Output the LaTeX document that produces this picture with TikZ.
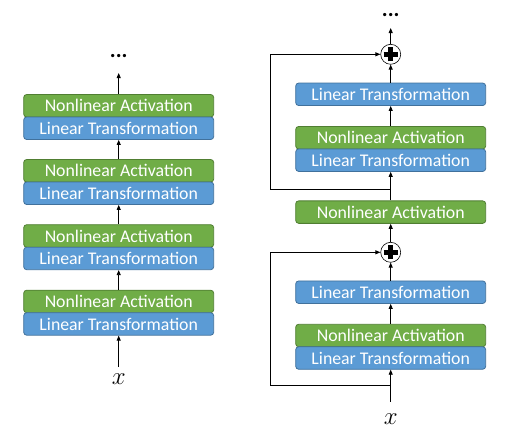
\documentclass[tikz,border=0pt]{standalone}
\usepackage{fontspec}
\setmainfont{Carlito}
\usetikzlibrary{arrows.meta}
\definecolor{nagreen}{HTML}{70AD47}
\definecolor{nagreenb}{HTML}{507E32}
\definecolor{ltblue}{HTML}{5B9BD5}
\definecolor{ltblueb}{HTML}{41719C}
\begin{document}
\begin{tikzpicture}[x=1pt,y=-1pt,
  blk/.style={rounded corners=3pt, minimum width=190pt, minimum height=22.5pt, inner sep=0pt,
    text=white, font=\fontsize{17.8}{20}\selectfont, line width=0.8pt},
  nabox/.style={blk, fill=nagreen, draw=nagreenb},
  ltbox/.style={blk, fill=ltblue, draw=ltblueb},
  arr/.style={-{Triangle[length=5pt,width=4pt]}, line width=0.8pt},
  plusnode/.style={circle, draw=black, fill=white, minimum size=20pt, inner sep=0pt, line width=0.6pt},
  dotsl/.style={font=\fontsize{22}{24}\selectfont\bfseries, inner sep=0pt, anchor=base},
  xl/.style={font=\fontsize{26}{28}\selectfont, inner sep=0pt}]
\useasboundingbox (0,0) rectangle (506,437);
% ---------- left column ----------
\foreach \i/\t in {1/94.5,2/159.5,3/224.7,4/290.2}{
  \node[nabox] (na\i) at (118.7,\t+11.25) {Nonlinear Activation};
  \node[ltbox] (lt\i) at (118.7,\t+33.75) {Linear Transformation};
}
\node[dotsl] (ldots) at (118.7,57.5) {...};
\coordinate (ltop) at (118.7,73);
\node[xl] (lx) at (118.7,379) {$x$};
\coordinate (lin) at (118.7,367);
\draw[arr] (lin) -- (lt4.south);
\draw[arr] (na4.north) -- (lt3.south);
\draw[arr] (na3.north) -- (lt2.south);
\draw[arr] (na2.north) -- (lt1.south);
\draw[arr] (na1.north) -- (ltop);
% ---------- right column ----------
\node[ltbox] (rlt3) at (390.7,94.3) {Linear Transformation};
\node[nabox] (rna2) at (390.7,137.7) {Nonlinear Activation};
\node[ltbox] (rlt4) at (390.7,160.2) {Linear Transformation};
\node[nabox] (rmid) at (390.7,212.1) {Nonlinear Activation};
\node[ltbox] (rlt1) at (390.7,292.2) {Linear Transformation};
\node[nabox] (rna1) at (390.7,335.5) {Nonlinear Activation};
\node[ltbox] (rlt2) at (390.7,358) {Linear Transformation};
\node[plusnode] (p2) at (390.7,54.3) {};
\node[plusnode] (p1) at (390.7,252.3) {};
\foreach \p in {p1,p2}{
  \draw[line width=4.5pt] ([xshift=-7pt]\p.center) -- ([xshift=7pt]\p.center);
  \draw[line width=4.5pt] ([yshift=-7pt]\p.center) -- ([yshift=7pt]\p.center);
}
\node[dotsl] (rdots) at (390.7,16) {...};
\coordinate (rtop) at (390.7,28);
\node[xl] (rx) at (390.7,419) {$x$};
\coordinate (rin) at (390.7,401.7);
\coordinate (j1) at (390.7,385.7);
\coordinate (s1a) at (270,385.7);
\coordinate (s1b) at (270,252.3);
\coordinate (j2) at (390.7,189.3);
\coordinate (s2a) at (270,189.3);
\coordinate (s2b) at (270,54.3);
\draw[arr] (rin) -- (rlt2.south);
\draw[arr] (j1) -- (s1a) -- (s1b) -- (p1.west);
\draw[arr] (rna1.north) -- (rlt1.south);
\draw[arr] (rlt1.north) -- (p1.south);
\draw[arr] (p1.north) -- (rmid.south);
\draw[arr] (rmid.north) -- (rlt4.south);
\draw[arr] (j2) -- (s2a) -- (s2b) -- (p2.west);
\draw[arr] (rna2.north) -- (rlt3.south);
\draw[arr] (rlt3.north) -- (p2.south);
\draw[arr] (p2.north) -- (rtop);
\end{tikzpicture}
\end{document}
